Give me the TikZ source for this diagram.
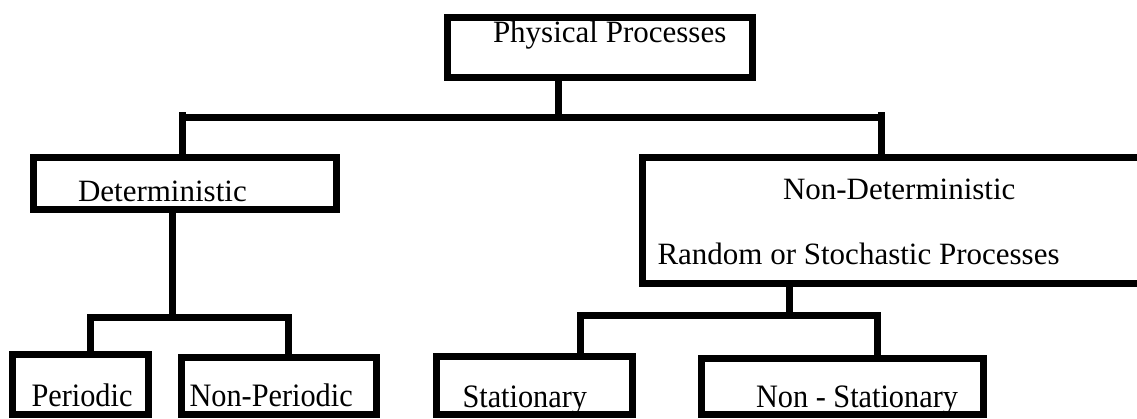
\documentclass[tikz,border=0pt]{standalone}
\usepackage{fontspec}
\setmainfont{Liberation Serif}
\begin{document}
\begin{tikzpicture}[x=1pt,y=-1pt,
  box/.style={draw=black,line width=7pt,rectangle,inner sep=0pt,outer sep=0pt,fill=none},
  conn/.style={draw=black,line width=7pt,line cap=rect,line join=miter},
  lbl/.style={anchor=base west,inner sep=0pt,outer sep=0pt,font=\fontsize{31}{36}\selectfont},
  lbls/.style={anchor=base west,inner sep=0pt,outer sep=0pt,font=\fontsize{30.3}{36}\selectfont,yscale=1.08}]
\useasboundingbox (0,0) rectangle (1137,419);
\clip (0,0) rectangle (1137,419);
\fill[white] (0,0) rectangle (1137,419);
% boxes
\node[box,minimum width=305pt,minimum height=60pt] (phys) at (600,47.5) {};
\node[box,minimum width=303.5pt,minimum height=52.5pt] (det) at (184.75,183.75) {};
\node[box,minimum width=517.5pt,minimum height=126.5pt] (ndet) at (901.25,220.75) {};
\node[box,minimum width=136pt,minimum height=60pt] (per) at (80,384.5) {};
\node[box,minimum width=195pt,minimum height=57pt] (nper) at (279,385.5) {};
\node[box,minimum width=196pt,minimum height=58pt] (stat) at (534,385) {};
\node[box,minimum width=282pt,minimum height=56pt] (nstat) at (842.5,386) {};
% texts
\node[lbl] (tphys) at (493,43) {Physical Processes};
\node[lbl] (tdet) at (78,202) {Deterministic};
\node[lbl] (tndet) at (783,200) {Non-Deterministic};
\node[lbl] (trand) at (657.5,265) {Random or Stochastic Processes};
\node[lbls] (tper) at (31.5,406.5) {Periodic};
\node[lbls] (tnper) at (189.5,406.5) {Non-Periodic};
\node[lbls] (tstat) at (462.5,407) {Stationary};
\node[lbls] (tnstat) at (756,407) {Non - Stationary};
% junction coordinates
\coordinate (j0) at (558,117.5);
\coordinate (tl) at (182.5,117.5);
\coordinate (tr) at (881,117.5);
\coordinate (tlt) at (182.5,115.5);
\coordinate (trt) at (881,115.5);
\coordinate (dj) at (172,318);
\coordinate (pl) at (90.5,318);
\coordinate (pr) at (288.5,318);
\coordinate (sj) at (789,316);
\coordinate (sl) at (580,316);
\coordinate (sr) at (877,316);
% connectors
\draw[conn] (phys.south -| j0) -- (j0);
\draw[conn] (tl) -- (tr);
\draw[conn] (det.north -| tl) -- (tlt);
\draw[conn] (ndet.north -| tr) -- (trt);
\draw[conn] (det.south -| dj) -- (dj);
\draw[conn] (pl) -- (pr);
\draw[conn] (pl) -- (per.north -| pl);
\draw[conn] (pr) -- (nper.north -| pr);
\draw[conn] (ndet.south -| sj) -- (sj);
\draw[conn] (sl) -- (sr);
\draw[conn] (sl) -- (stat.north -| sl);
\draw[conn] (sr) -- (nstat.north -| sr);
\end{tikzpicture}
\end{document}
